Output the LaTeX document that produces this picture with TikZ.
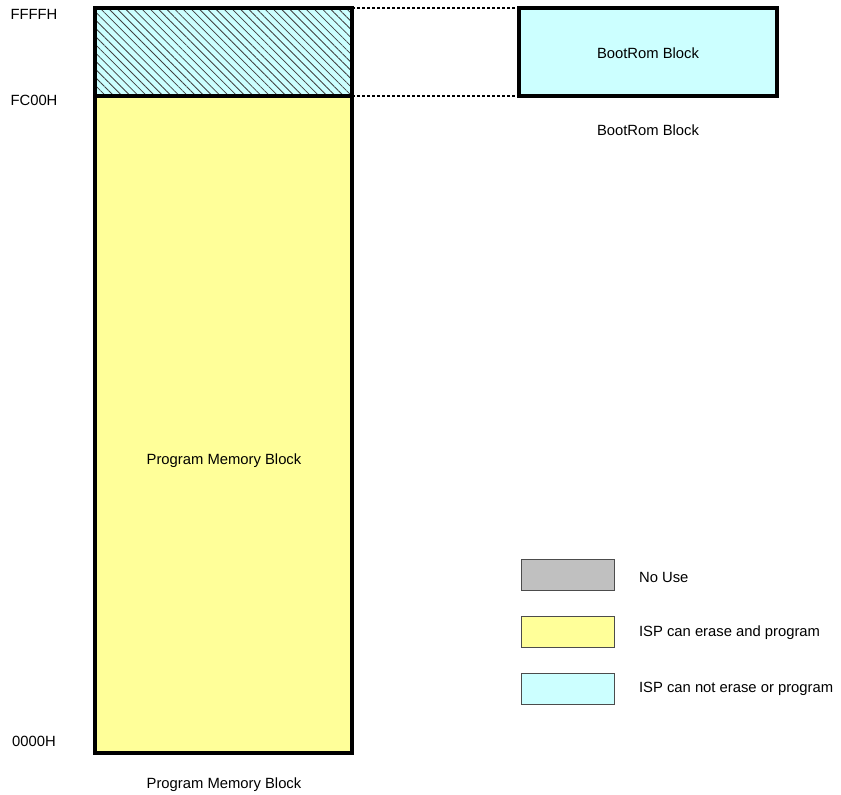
\documentclass[tikz,border=0pt]{standalone}
\usepackage{fontspec}
\setmainfont{Liberation Sans}
\usetikzlibrary{patterns.meta}
\definecolor{romcyan}{HTML}{CCFFFF}
\definecolor{progyellow}{HTML}{FFFF99}
\definecolor{nousegray}{HTML}{C0C0C0}
\begin{document}
\begin{tikzpicture}[x=0.5pt,y=-0.5pt,
  every node/.style={font=\fontsize{7.4pt}{9pt}\selectfont},
  memblock/.style={draw=black,line width=1.6pt,inner sep=0pt,outer sep=0pt,rectangle},
  legbox/.style={draw=black!70,line width=0.5pt,inner sep=0pt,rectangle,minimum width=46.5pt,minimum height=15.5pt},
  link/.style={line width=1pt,dash pattern=on 1.6pt off 0.9pt},
  addr/.style={anchor=center},
  legtext/.style={anchor=west}]
\useasboundingbox (0,0) rectangle (841,794);
% hatched top region
\path[fill=romcyan] (95,8) rectangle (352,96);
\fill[pattern={Lines[angle=-45,distance=2.9pt,line width=0.4pt]},pattern color=black!75]
  (95,8) rectangle (352,96);
\node[memblock,minimum width=128.5pt,minimum height=44pt] (hatch) at (223.5,52) {};
% program memory block
\node[memblock,fill=progyellow,minimum width=128.5pt,minimum height=328.5pt] (prog) at (223.5,424.5) {};
\node (progin) at (224,461) {Program Memory Block};
\node (progcap) at (224,785) {Program Memory Block};
% bootrom block
\node[memblock,fill=romcyan,minimum width=129pt,minimum height=44pt] (boot) at (648,52) {};
\node (bootin) at (648,53) {BootRom Block};
\node (bootcap) at (648,130) {BootRom Block};
% dashed connectors
\draw[link] (hatch.north east) -- (boot.north west);
\draw[link] (hatch.south east) -- (boot.south west);
% address labels
\node[addr] (aFFFF) at (34,14) {FFFFH};
\node[addr] (aFC00) at (34,100) {FC00H};
\node[addr] (a0000) at (34,741) {0000H};
% legend
\node[legbox,fill=nousegray] (lg1) at (567.5,574.5) {};
\node[legbox,fill=progyellow] (lg2) at (567.5,631.5) {};
\node[legbox,fill=romcyan] (lg3) at (567.5,688.5) {};
\node[legtext] (lt1) at (632,577) {No Use};
\node[legtext] (lt2) at (632,633) {ISP can erase and program};
\node[legtext] (lt3) at (632,689) {ISP can not erase or program};
\end{tikzpicture}
\end{document}
